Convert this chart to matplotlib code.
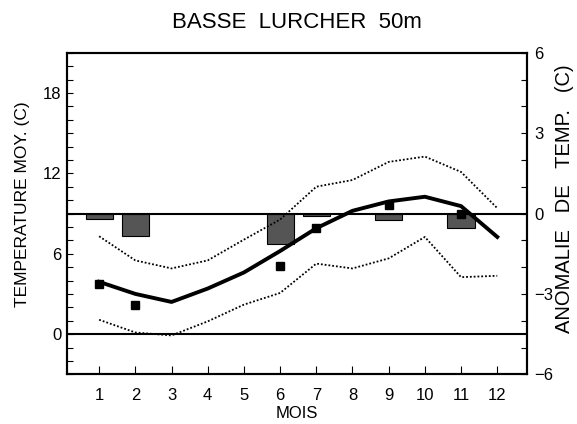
import matplotlib
matplotlib.use('Agg')
import matplotlib.pyplot as plt
import numpy as np
from matplotlib.ticker import MultipleLocator

plt.rcParams['font.family'] = ['Liberation Sans', 'DejaVu Sans']

mois = np.arange(1, 13)
moyenne = [3.9, 3.0, 2.4, 3.4, 4.6, 6.2, 7.9, 9.2, 9.9, 10.25, 9.55, 7.25]
borne_haute = [7.3, 5.5, 4.9, 5.5, 7.05, 8.55, 11.0, 11.5, 12.85, 13.25, 12.1, 9.4]
borne_basse = [1.07, 0.12, -0.1, 0.95, 2.2, 3.07, 5.26, 4.9, 5.65, 7.25, 4.25, 4.35]

mois_obs = [1, 2, 6, 7, 9, 11]
temp_obs = [3.76, 2.14, 5.06, 7.95, 9.6, 8.97]
anomalie = [-0.2, -0.85, -1.13, -0.1, -0.26, -0.53]

fig = plt.figure(figsize=(5.77, 4.24), dpi=100)
ax = fig.add_axes([67.3 / 577, 1 - 374.3 / 424, 460 / 577, 321.6 / 424])
ax2 = ax.twinx()
ax.set_zorder(ax2.get_zorder() + 1)
ax.patch.set_visible(False)

# anomalies (axe droit)
ax2.bar(mois_obs, anomalie, width=0.75, color='#555555', edgecolor='black', linewidth=0.8)
ax2.axhline(0, color='black', lw=1.5)
ax2.set_ylim(-6, 6)
ax2.set_yticks([-6, -3, 0, 3, 6])
ax2.yaxis.set_minor_locator(MultipleLocator(1))
ax2.set_ylabel('ANOMALIE   DE   TEMP.   (C)', fontsize=14.5)
ax2.yaxis.set_label_coords(1.06, 0.547)

# temperatures (axe gauche)
ax.axhline(0, color='black', lw=1.5)
ax.plot(mois, borne_haute, color='black', lw=1.3, ls=(0, (1, 1.1)))
ax.plot(mois, borne_basse, color='black', lw=1.3, ls=(0, (1, 1.1)))
ax.plot(mois, moyenne, color='black', lw=2.8)
ax.plot(mois_obs, temp_obs, 's', color='black', ms=5.5)

ax.set_xlim(0.12, 12.83)
ax.set_ylim(-3, 21)
ax.set_xticks(mois)
ax.set_yticks([0, 6, 12, 18])
ax.yaxis.set_minor_locator(MultipleLocator(1))
ax.set_xlabel('MOIS', fontsize=12)
ax.xaxis.set_label_coords(0.5, -0.1)
ax.set_ylabel('TEMPERATURE MOY. (C)', fontsize=12.5)
ax.yaxis.set_label_coords(-0.08, 0.53)
ax.set_title('BASSE  LURCHER  50m', fontsize=16, pad=17.5)

for a in (ax, ax2):
    for s in a.spines.values():
        s.set_linewidth(1.5)
ax.tick_params(axis='y', which='both', direction='in', length=4.5, width=0.8, labelsize=12, pad=4)
ax.tick_params(axis='x', direction='in', length=5.5, width=0.8, labelsize=12, pad=10)
ax2.tick_params(axis='y', which='both', direction='in', length=4.5, width=0.8, labelsize=12, pad=5)

fig.savefig('out.png', dpi=100)
